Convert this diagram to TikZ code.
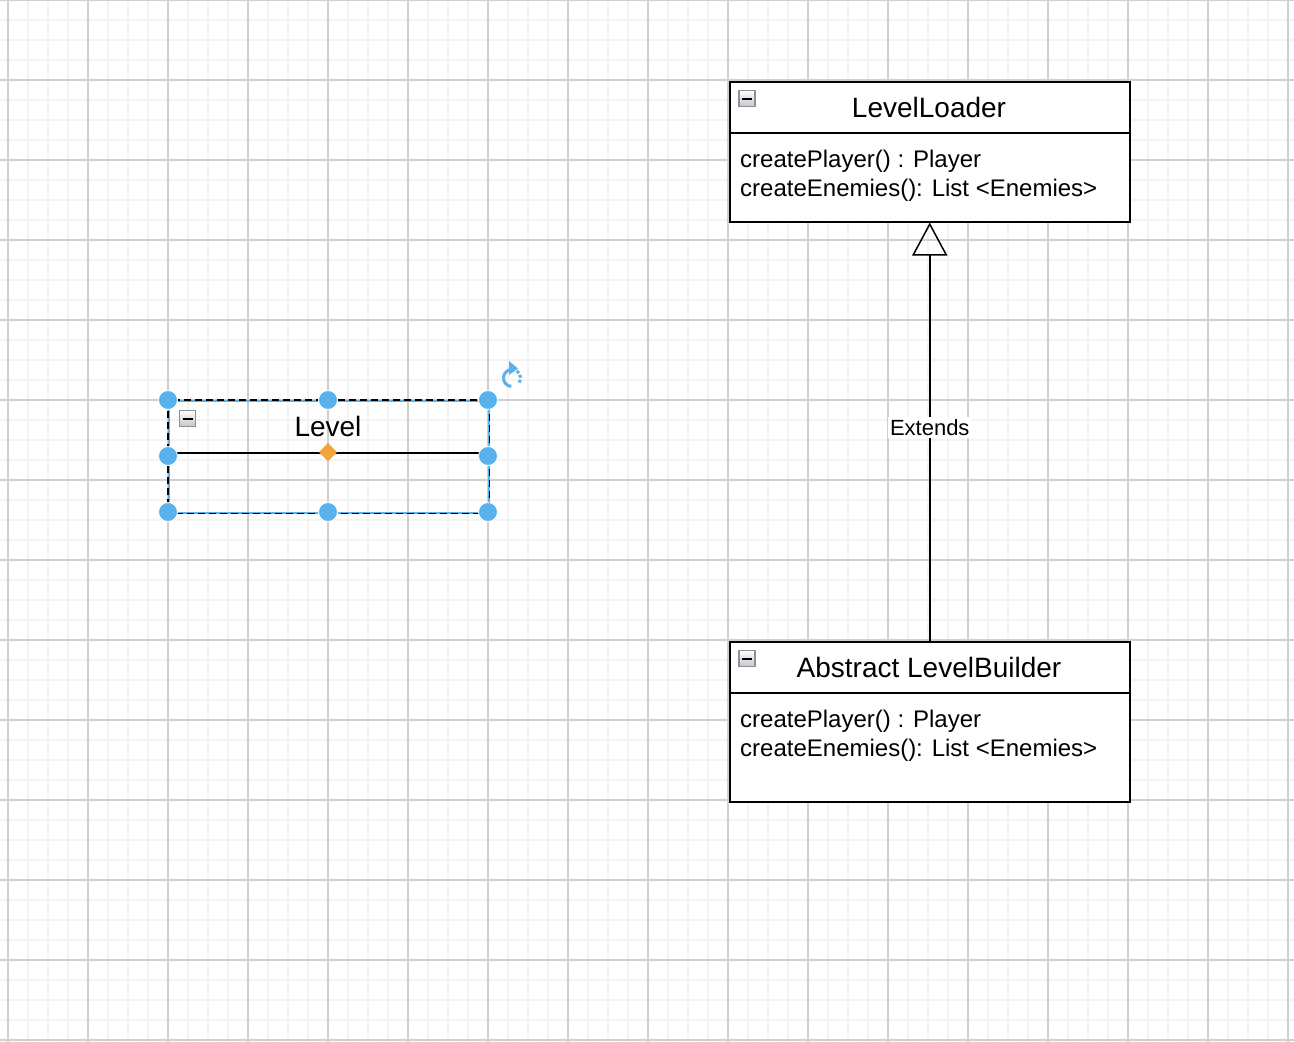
\documentclass[tikz,border=0pt]{standalone}
\usepackage{fontspec}
\setmainfont{Liberation Sans}
\usetikzlibrary{arrows.meta}
\definecolor{handlecol}{RGB}{90,178,236}
\definecolor{orangecol}{RGB}{242,163,58}
\definecolor{minorgrid}{RGB}{243,243,243}
\definecolor{majorgrid}{RGB}{208,208,208}
\definecolor{icongray}{RGB}{140,146,156}
\tikzset{
  classbox/.style={draw=black, line width=1.5pt, fill=white, rectangle, anchor=north west, inner sep=0pt, minimum width=400pt},
  sepline/.style={draw=black, line width=1.5pt},
  titletext/.style={font=\fontsize{28}{32}\selectfont, anchor=base, inner sep=0pt},
  bodytext/.style={font=\fontsize{24}{28}\selectfont, anchor=base west, inner sep=0pt},
  minusicon/.style={draw=icongray, line width=1.2pt, top color=white, bottom color=gray!45, minimum size=16pt, inner sep=0pt, rectangle},
  extendsarrow/.style={draw=black, line width=1.5pt, -{Triangle[open, length=33pt, width=35pt, line width=1.5pt]}},
  extlabel/.style={fill=white, font=\fontsize{22}{26}\selectfont, inner sep=2pt},
  handledot/.style={circle, fill=handlecol, draw=white, line width=0.8pt, minimum size=19pt, inner sep=0pt},
}
\begin{document}
\begin{tikzpicture}[x=1pt,y=-1pt]
\useasboundingbox (0,0) rectangle (1294,1042);
\fill[white] (0,0) rectangle (1294,1042);
% grid
\foreach \x in {8,28,...,1288} \draw[minorgrid, line width=2pt] (\x,0) -- (\x,1042);
\foreach \y in {0,20,...,1040} \draw[minorgrid, line width=2pt] (0,\y) -- (1294,\y);
\foreach \x in {8,88,...,1288} \draw[majorgrid, line width=1.1pt] (\x,0) -- (\x,1042);
\foreach \y in {0,80,...,1040} \draw[majorgrid, line width=1.1pt] (0,\y) -- (1294,\y);

% LevelLoader
\node[classbox, minimum height=140pt] (ll) at (729,81) {};
\draw[sepline] ([yshift=-52pt]ll.north west) -- ([yshift=-52pt]ll.north east);
\node[minusicon] (llm) at (747,98.5) {};
\draw[line width=2pt] ([xshift=-5pt]llm.center) -- ([xshift=5pt]llm.center);
\node[titletext] (llt) at (929,117.5) {LevelLoader};
\node[bodytext] (llb1) at (740,167) {createPlayer() : Player};
\node[bodytext] (llb2) at (740,196) {createEnemies(): List <Enemies>};

% Abstract LevelBuilder
\node[classbox, minimum height=160pt] (lb) at (729,641) {};
\draw[sepline] ([yshift=-52pt]lb.north west) -- ([yshift=-52pt]lb.north east);
\node[minusicon] (lbm) at (747,658.5) {};
\draw[line width=2pt] ([xshift=-5pt]lbm.center) -- ([xshift=5pt]lbm.center);
\node[titletext] (lbt) at (929,677.5) {Abstract LevelBuilder};
\node[bodytext] (lbb1) at (740,727) {createPlayer() : Player};
\node[bodytext] (lbb2) at (740,756) {createEnemies(): List <Enemies>};

% Extends connector
\draw[extendsarrow] (lb.north) -- node[extlabel, pos=0.51] (ext) {Extends} (ll.south);

% Level (selected)
\node[draw=handlecol, line width=1.5pt, rectangle, anchor=north west, inner sep=0pt, minimum width=320pt, minimum height=112pt] (lvl) at (168,400) {};
\draw[black, line width=1.5pt, dash pattern=on 7pt off 4pt] (lvl.north west) rectangle (lvl.south east);
\draw[sepline] (168,453) -- (488,453);
\node[minusicon] (lvm) at (187.5,418.5) {};
\draw[line width=2pt] ([xshift=-5pt]lvm.center) -- ([xshift=5pt]lvm.center);
\node[titletext] (lvt) at (328,436) {Level};

% selection handles
\foreach \hx/\hy/\hn in {168/400/a,328/400/b,488/400/c,168/456/d,488/456/e,168/512/f,328/512/g,488/512/h}
  \node[handledot] (h\hn) at (\hx,\hy) {};
\fill[orangecol] (328,443) -- (337,452) -- (328,461) -- (319,452) -- cycle;

% rotate icon
\coordinate (rot) at (512,378);
\draw[handlecol, line width=3pt] ([shift={(-95:8.5pt)}]rot) arc[start angle=-95, end angle=-270, radius=8.5pt];
\draw[handlecol, line width=3pt, dash pattern=on 3pt off 2pt] ([shift={(90:8.5pt)}]rot) arc[start angle=90, end angle=-40, radius=8.5pt];
\fill[handlecol] (509,361) -- (518,368.5) -- (509,375) -- cycle;
\end{tikzpicture}
\end{document}
